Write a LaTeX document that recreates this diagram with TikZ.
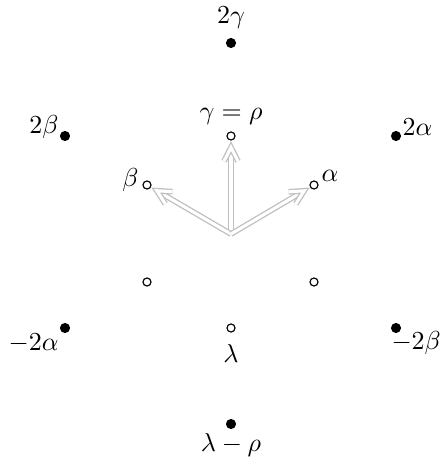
\documentclass[tikz,border=0pt]{standalone}
\usetikzlibrary{calc}
\begin{document}
\begin{tikzpicture}[x=0.385pt,y=-0.385pt,
  fulldot/.style={circle,fill=black,inner sep=0pt,minimum size=3.9pt},
  opendot/.style={circle,draw=black,fill=white,line width=0.45pt,inner sep=0pt,minimum size=3.1pt},
  rootline/.style={draw=gray!50,line width=0.5pt,double=white,double distance=1.2pt},
  roothead/.style={rootline,line join=miter},
  lbl/.style={inner sep=0pt}]
\useasboundingbox (0,0) rectangle (441,464);
% origin
\coordinate (o) at (231,234);
% weights
\node[fulldot] (g2) at (231,43) {};
\node[fulldot] (b2) at (65,136) {};
\node[fulldot] (a2) at (396,136) {};
\node[opendot] (g) at (231,136) {};
\node[opendot] (b) at (147,185) {};
\node[opendot] (a) at (314,185) {};
\node[opendot] (ma) at (147,282) {};
\node[opendot] (mb) at (314,282) {};
\node[fulldot] (ma2) at (65,328) {};
\node[opendot] (l) at (231,328) {};
\node[fulldot] (mb2) at (396,328) {};
\node[fulldot] (lr) at (231,424) {};
% arrows
\foreach \t in {g,b,a}{
  \coordinate (tip\t) at ($(\t.center)!4.4pt!(o)$);
  \draw[rootline] (o) -- ($(\t.center)!6.6pt!(o)$);
  \draw[roothead] ($(tip\t)!6pt!27:(o)$) -- (tip\t) -- ($(tip\t)!6pt!-27:(o)$);
}
% labels
\node[lbl] (tg2) at (231,18) {$2\gamma$};
\node[lbl,anchor=east] (tb2) at (59,127) {$2\beta$};
\node[lbl,anchor=west] (ta2) at (402,127) {$2\alpha$};
\node[lbl] (tg) at (231,116) {$\gamma=\rho$};
\node[lbl,anchor=east] (tb) at (139,180) {$\beta$};
\node[lbl,anchor=west] (ta) at (321,176) {$\alpha$};
\node[lbl,anchor=east] (tma2) at (59,343) {$-2\alpha$};
\node[lbl,anchor=west] (tmb2) at (391,343) {$-2\beta$};
\node[lbl] (tl) at (231,353) {$\lambda$};
\node[lbl] (tlr) at (231,445) {$\lambda-\rho$};
\end{tikzpicture}
\end{document}
